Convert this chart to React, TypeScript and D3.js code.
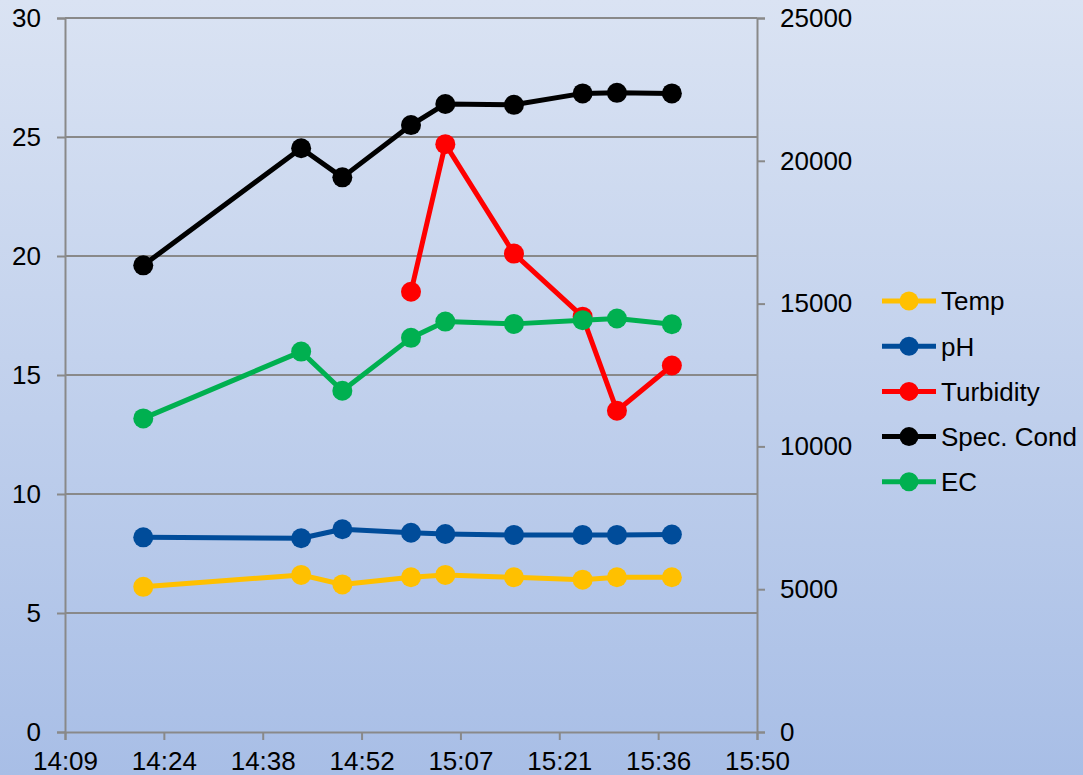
import { useEffect, useRef } from "react";
import * as d3 from "d3";

// sample times (hh:mm)
const times = ["14:21", "14:44", "14:50", "15:00", "15:05", "15:15", "15:25", "15:30", "15:38"];

// left axis series
const temp = [6.1, 6.6, 6.2, 6.5, 6.6, 6.5, 6.4, 6.5, 6.5];
const ph = [8.18, 8.14, 8.52, 8.37, 8.32, 8.28, 8.28, 8.28, 8.3];
const turbidity = [null, null, null, 18.5, 24.7, 20.1, 17.45, 13.5, 15.4];

// right axis series
const specCond = [16340, 20440, 19420, 21250, 21990, 21960, 22360, 22380, 22360];
const ec = [10980, 13320, 11950, 13800, 14370, 14290, 14420, 14480, 14280];

// axis ticks (x in minutes of day: 0.59 .. 0.66 day)
const xTickValues = [849.6, 864, 878.4, 892.8, 907.2, 921.6, 936, 950.4];
const leftTicks = [0, 5, 10, 15, 20, 25, 30];
const rightTicks = [0, 5000, 10000, 15000, 20000, 25000];

const seriesNames = ["Temp", "pH", "Turbidity", "Spec. Cond", "EC"];
const seriesColors = ["#FFC000", "#004C9A", "#FF0000", "#000000", "#00B050"];

const toMinutes = (s: string) => {
  const [h, m] = s.split(":").map(Number);
  return h * 60 + m;
};
const fmtTime = (v: number) => {
  const h = Math.floor(v / 60);
  const m = Math.floor(v - h * 60);
  return `${h}:${String(m).padStart(2, "0")}`;
};

export default function App() {
  const ref = useRef<SVGSVGElement>(null);

  useEffect(() => {
    const width = 1083,
      height = 775,
      margin = { top: 18, right: 326, bottom: 43, left: 65 };
    const font = "'Liberation Sans', Arial, sans-serif";
    const fontSize = 26;
    const gridColor = "#898989";

    const svg = d3.select(ref.current);
    svg.selectAll("*").remove();
    svg.attr("width", width).attr("height", height);

    // background gradient
    const grad = svg
      .append("defs")
      .append("linearGradient")
      .attr("id", "bg")
      .attr("x1", "0%")
      .attr("y1", "0%")
      .attr("x2", "0%")
      .attr("y2", "100%");
    grad.append("stop").attr("offset", "0%").attr("stop-color", "#DAE3F3");
    grad.append("stop").attr("offset", "100%").attr("stop-color", "#A8BEE6");
    svg.append("rect").attr("width", width).attr("height", height).attr("fill", "url(#bg)");

    const innerW = width - margin.left - margin.right;
    const innerH = height - margin.top - margin.bottom;

    const g = svg.append("g").attr("transform", `translate(${margin.left},${margin.top})`);

    const x = d3.scaleLinear().domain([849.6, 950.4]).range([0, innerW]);
    const yL = d3.scaleLinear().domain([0, 30]).range([innerH, 0]);
    const yR = d3.scaleLinear().domain([0, 25000]).range([innerH, 0]);

    // gridlines
    g.append("g")
      .selectAll("line")
      .data(leftTicks.filter((d) => d > 0))
      .enter()
      .append("line")
      .attr("x1", 0)
      .attr("x2", innerW)
      .attr("y1", (d) => yL(d))
      .attr("y2", (d) => yL(d))
      .attr("stroke", gridColor)
      .attr("stroke-width", 2);

    const styleAxis = (sel: any) => {
      sel.attr("font-size", fontSize).attr("font-family", font);
      sel.selectAll("path, line").attr("stroke", gridColor).attr("stroke-width", 2);
      sel.selectAll("text").attr("fill", "#000");
    };

    g.append("g")
      .call(d3.axisLeft(yL).tickValues(leftTicks).tickSize(8).tickPadding(16))
      .call(styleAxis);

    g.append("g")
      .attr("transform", `translate(${innerW},0)`)
      .call(
        d3
          .axisRight(yR)
          .tickValues(rightTicks)
          .tickSize(8)
          .tickPadding(15)
          .tickFormat(d3.format("d"))
      )
      .call(styleAxis);

    g.append("g")
      .attr("transform", `translate(0,${innerH})`)
      .call(
        d3
          .axisBottom(x)
          .tickValues(xTickValues)
          .tickSize(8)
          .tickPadding(12)
          .tickFormat((d) => fmtTime(+d))
      )
      .call(styleAxis);

    const xs = times.map(toMinutes);
    const series = [
      { vals: temp, y: yL },
      { vals: ph, y: yL },
      { vals: turbidity, y: yL },
      { vals: specCond, y: yR },
      { vals: ec, y: yR },
    ];

    series.forEach((s, i) => {
      const pts = s.vals
        .map((v, j) => ({ t: xs[j], v }))
        .filter((p) => p.v !== null) as { t: number; v: number }[];
      const line = d3
        .line<{ t: number; v: number }>()
        .x((d) => x(d.t))
        .y((d) => s.y(d.v));
      g.append("path")
        .datum(pts)
        .attr("fill", "none")
        .attr("stroke", seriesColors[i])
        .attr("stroke-width", 5)
        .attr("stroke-linejoin", "round")
        .attr("d", line);
      g.append("g")
        .selectAll("circle")
        .data(pts)
        .enter()
        .append("circle")
        .attr("cx", (d) => x(d.t))
        .attr("cy", (d) => s.y(d.v))
        .attr("r", 10)
        .attr("fill", seriesColors[i]);
    });

    // legend
    const legend = svg.append("g").attr("transform", "translate(882,301)");
    seriesNames.forEach((name, i) => {
      const row = legend.append("g").attr("transform", `translate(0,${i * 45.2})`);
      row.append("line")
        .attr("x1", 0)
        .attr("x2", 54)
        .attr("stroke", seriesColors[i])
        .attr("stroke-width", 5);
      row.append("circle").attr("cx", 27).attr("r", 9.5).attr("fill", seriesColors[i]);
      row.append("text")
        .attr("x", 59)
        .attr("dy", "0.36em")
        .attr("font-size", fontSize)
        .attr("font-family", font)
        .attr("fill", "#000")
        .text(name);
    });
  }, []);

  return <svg ref={ref} style={{ position: "absolute", left: 0, top: 0, display: "block" }} />;
}
